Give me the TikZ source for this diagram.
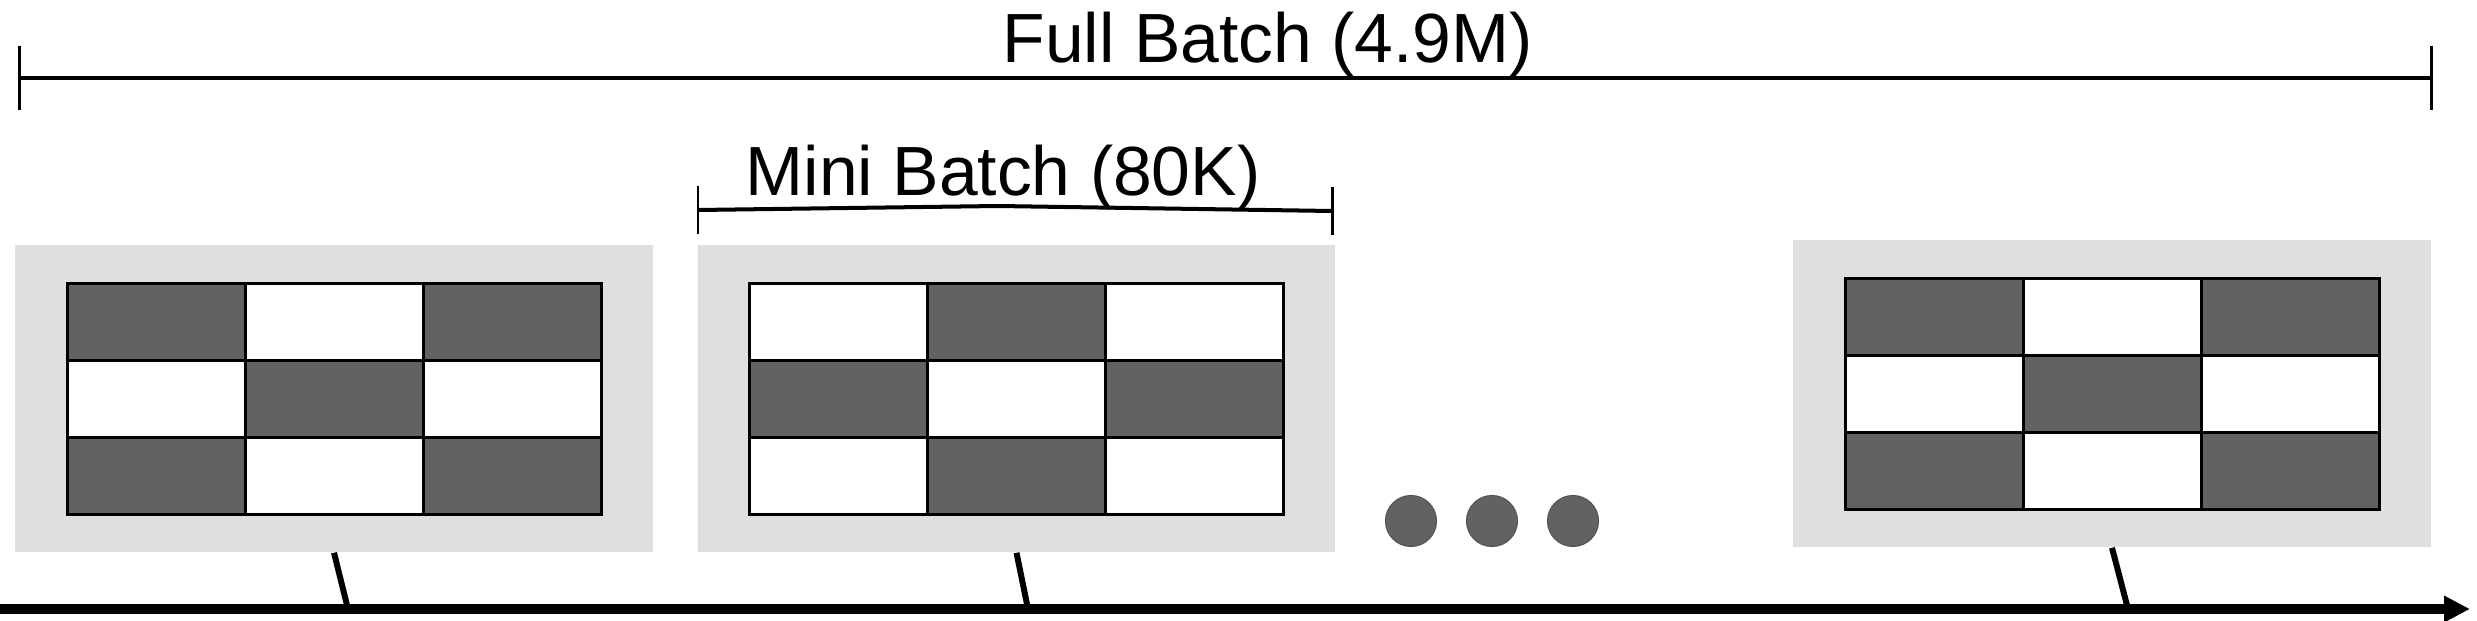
\documentclass[tikz,border=0pt]{standalone}
\usepackage{fontspec}
\setmainfont{Liberation Sans}
\usetikzlibrary{arrows.meta}
\definecolor{panelgray}{HTML}{DFDFDF}
\definecolor{cellgray}{HTML}{626262}
\definecolor{dotedge}{HTML}{555555}
\newcommand\mygrid[4]{%
  \foreach \r in {0,1,2}{\foreach \c in {0,1,2}{%
    \pgfmathtruncatemacro\s{\r+\c+#4}%
    \ifodd\s \def\cf{white}\else\def\cf{cellgray}\fi
    \node[cell, fill=\cf] (#1-\r-\c) at ({#2+(\c+0.5)*177.7},{#3+(\r+0.5)*76.67}) {};
  }}}
\begin{document}
\begin{tikzpicture}[x=0.01cm,y=-0.01cm,
  panel/.style={fill=panelgray, draw=none, inner sep=0pt, minimum width=6.37cm, minimum height=3.07cm},
  cell/.style={draw=black, line width=0.85pt, inner sep=0pt, minimum width=1.777cm, minimum height=0.7667cm},
  lbl/.style={inner sep=0pt, font=\fontsize{19.8pt}{24pt}\selectfont},
  bar/.style={line width=1.14pt, {Bar[width=0.64cm,line width=0.85pt]}-{Bar[width=0.64cm,line width=0.85pt]}},
  conn/.style={line width=1.7pt},
  dot/.style={circle, fill=cellgray, draw=dotedge, line width=0.3pt, minimum size=0.51cm, inner sep=0pt}]
\useasboundingbox (0,0) rectangle (2477,621);
% panels
\node[panel] (p1) at (334,398.5) {};
\node[panel] (p2) at (1016.5,398.5) {};
\node[panel] (p3) at (2112,393.5) {};
% grids
\mygrid{g1}{68}{284}{0}
\mygrid{g2}{750}{284}{1}
\mygrid{g3}{1846}{279}{0}
% dots
\node[dot] (d1) at (1411,521) {};
\node[dot] (d2) at (1492,521) {};
\node[dot] (d3) at (1573,521) {};
% full batch
\coordinate (fbL) at (18,78);
\coordinate (fbR) at (2433,78);
\draw[bar] (fbL) -- (fbR);
\node[lbl, anchor=base west] (full) at (1002,62) {Full Batch (4.9M)};
% mini batch
\coordinate (mbL) at (698,210);
\coordinate (mbM) at (998,206);
\coordinate (mbR) at (1332,211);
\draw[line width=1.14pt] (mbL) -- (mbM) -- (mbR);
\draw[line width=0.85pt] ([yshift=0.24cm]mbL) -- ([yshift=-0.24cm]mbL);
\draw[line width=0.85pt] ([yshift=0.24cm]mbR) -- ([yshift=-0.24cm]mbR);
\node[lbl, anchor=base west] (mini) at (745,195) {Mini Batch (80K)};
% timeline
\coordinate (tl0) at (0,609);
\coordinate (tl1) at (2470,609);
\coordinate (t1) at (348,609);
\coordinate (t2) at (1028,609);
\coordinate (t3) at (2128,609);
\draw[conn] (p1.south) -- (t1);
\draw[conn] (p2.south) -- (t2);
\draw[conn] (p3.south) -- (t3);
\draw[line width=2.85pt, -{Triangle[length=0.26cm,width=0.25cm]}] (tl0) -- (tl1);
\end{tikzpicture}
\end{document}
